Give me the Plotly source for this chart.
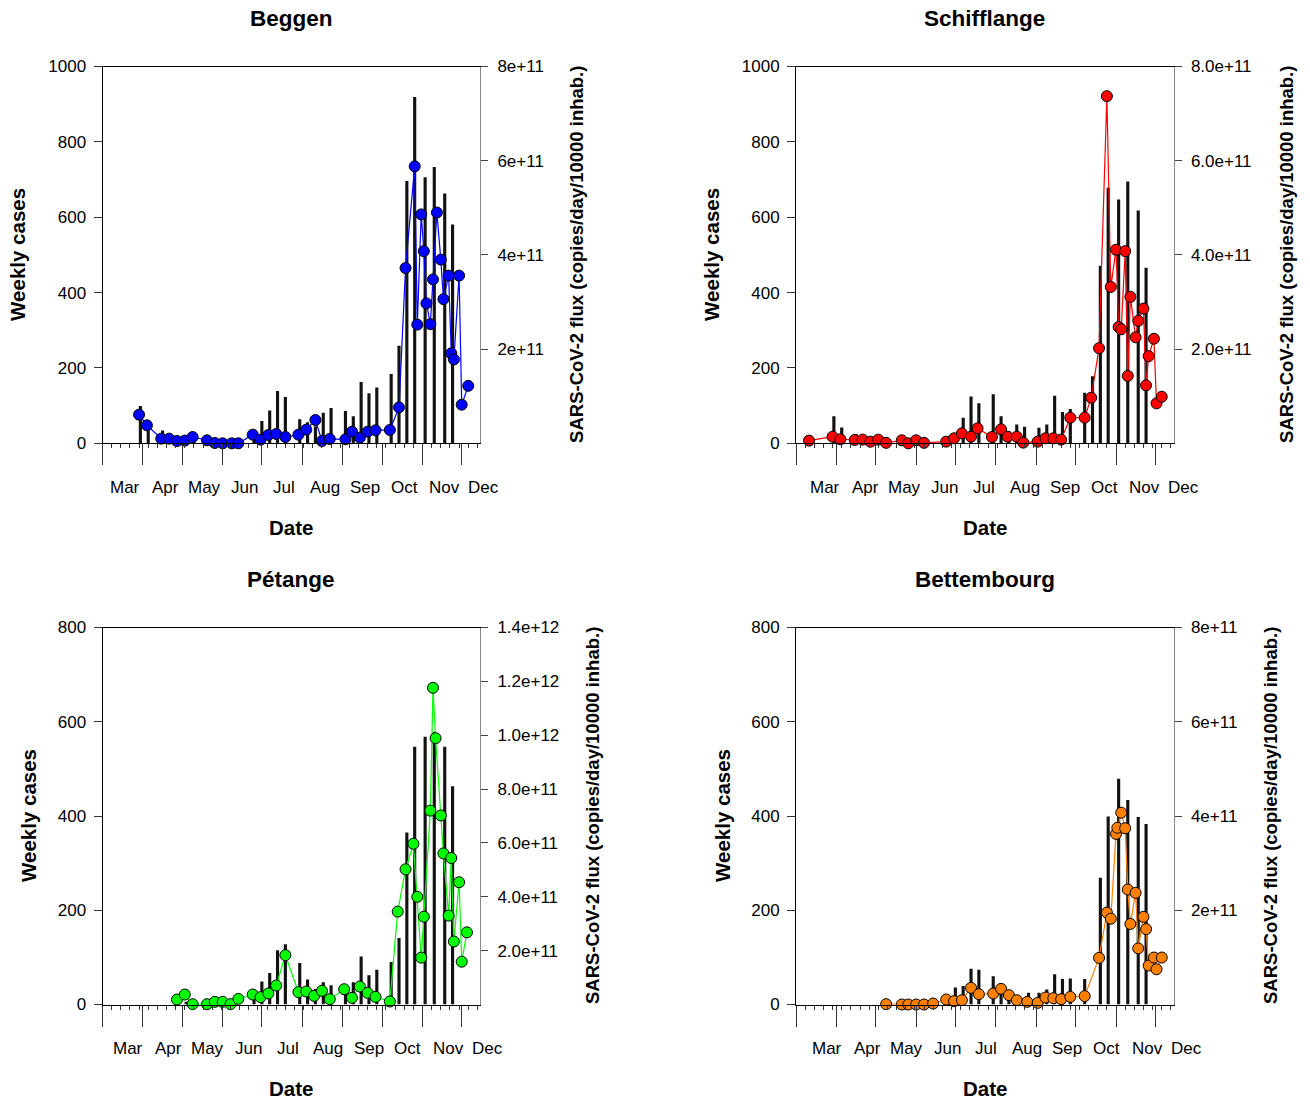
import plotly.graph_objects as go
import pandas as pd

# ---------------- data ----------------
month_labels = ["Mar", "Apr", "May", "Jun", "Jul", "Aug", "Sep", "Oct", "Nov", "Dec"]
month_starts = ["2020-03-01", "2020-04-01", "2020-05-01", "2020-06-01", "2020-07-01",
                "2020-08-01", "2020-09-01", "2020-10-01", "2020-11-01", "2020-12-01"]

# Beggen
beggen_sample_dates = ["2020-03-29", "2020-04-04", "2020-04-15", "2020-04-21", "2020-04-27", "2020-05-03",
                       "2020-05-09", "2020-05-20", "2020-05-26", "2020-06-01", "2020-06-08", "2020-06-13",
                       "2020-06-24", "2020-06-30", "2020-07-06", "2020-07-12", "2020-07-19", "2020-07-29",
                       "2020-08-04", "2020-08-11", "2020-08-16", "2020-08-22", "2020-09-03", "2020-09-08",
                       "2020-09-14", "2020-09-20", "2020-09-26", "2020-10-07", "2020-10-14", "2020-10-19",
                       "2020-10-26", "2020-10-28", "2020-10-31", "2020-11-02", "2020-11-04", "2020-11-07",
                       "2020-11-09", "2020-11-12", "2020-11-15", "2020-11-17", "2020-11-21", "2020-11-23",
                       "2020-11-25", "2020-11-29", "2020-12-01", "2020-12-06"]
beggen_flux = [6.08e10, 3.82e10, 9.9e9, 9.9e9, 4.9e9, 5.7e9, 1.34e10, 6.4e9, 7e8, 0, 0, 0,
               1.84e10, 7.8e9, 1.77e10, 1.98e10, 1.34e10, 1.84e10, 2.9e10, 4.95e10, 4.9e9, 9.2e9,
               8.5e9, 2.47e10, 1.2e10, 2.47e10, 2.76e10, 2.83e10, 7.63e10, 3.72e11, 5.88e11, 2.52e11,
               4.86e11, 4.08e11, 2.97e11, 2.53e11, 3.48e11, 4.90e11, 3.90e11, 3.06e11, 3.56e11,
               1.91e11, 1.78e11, 3.56e11, 8.2e10, 1.22e11]
beggen_case_dates = ["2020-03-30", "2020-04-05", "2020-04-16", "2020-04-22", "2020-04-28", "2020-05-04",
                     "2020-05-10", "2020-05-21", "2020-05-27", "2020-06-02", "2020-06-08", "2020-06-14",
                     "2020-06-25", "2020-07-01", "2020-07-07", "2020-07-13", "2020-07-19", "2020-07-30",
                     "2020-08-05", "2020-08-11", "2020-08-17", "2020-08-23", "2020-09-03", "2020-09-09",
                     "2020-09-15", "2020-09-21", "2020-09-27", "2020-10-08", "2020-10-14", "2020-10-20",
                     "2020-10-26", "2020-11-03", "2020-11-10", "2020-11-18", "2020-11-24"]
beggen_cases = [99, 50, 34, 15, 10, 10, 20, 8, 3, 3, 3, 3, 30, 59, 87, 139, 123, 64, 56, 45, 81, 94,
                86, 72, 163, 133, 148, 184, 259, 696, 919, 706, 733, 663, 581]

# Schifflange
schif_sample_dates = ["2020-03-11", "2020-03-29", "2020-04-04", "2020-04-15", "2020-04-21", "2020-04-27",
                      "2020-05-03", "2020-05-09", "2020-05-21", "2020-05-26", "2020-06-01", "2020-06-07",
                      "2020-06-24", "2020-06-30", "2020-07-06", "2020-07-13", "2020-07-18", "2020-07-29",
                      "2020-08-05", "2020-08-10", "2020-08-17", "2020-08-22", "2020-09-02", "2020-09-08",
                      "2020-09-14", "2020-09-20", "2020-09-27", "2020-10-08", "2020-10-13", "2020-10-19",
                      "2020-10-25", "2020-10-28", "2020-11-01", "2020-11-03", "2020-11-05", "2020-11-08",
                      "2020-11-10", "2020-11-12", "2020-11-16", "2020-11-18", "2020-11-22", "2020-11-24",
                      "2020-11-26", "2020-11-30", "2020-12-02", "2020-12-06"]
schif_flux = [5.7e9, 1.41e10, 8.5e9, 7.1e9, 7.8e9, 3.5e9, 7.8e9, 1.0e9, 6.4e9, 0, 6.4e9, 1.0e9,
              3.5e9, 1.06e10, 2.12e10, 1.41e10, 3.18e10, 1.34e10, 2.97e10, 1.41e10, 1.41e10, 1.4e9,
              3.5e9, 1.06e10, 1.06e10, 7.8e9, 5.44e10, 5.44e10, 9.68e10, 2.02e11, 7.37e11, 3.32e11,
              4.11e11, 2.47e11, 2.42e11, 4.08e11, 1.43e11, 3.11e11, 2.25e11, 2.60e11, 2.86e11,
              1.23e11, 1.85e11, 2.22e11, 8.48e10, 9.89e10]
schif_case_dates = ["2020-03-30", "2020-04-05", "2020-04-16", "2020-04-22", "2020-04-27", "2020-05-03",
                    "2020-05-09", "2020-05-21", "2020-05-27", "2020-06-01", "2020-06-07", "2020-06-25",
                    "2020-07-01", "2020-07-07", "2020-07-13", "2020-07-19", "2020-07-30", "2020-08-05",
                    "2020-08-11", "2020-08-17", "2020-08-23", "2020-09-03", "2020-09-09", "2020-09-15",
                    "2020-09-21", "2020-09-27", "2020-10-08", "2020-10-14", "2020-10-20", "2020-10-26",
                    "2020-11-03", "2020-11-10", "2020-11-18", "2020-11-24"]
schif_cases = [72, 42, 25, 12, 8, 8, 5, 5, 3, 3, 3, 10, 20, 68, 124, 106, 130, 72, 31, 50, 44,
               41, 50, 126, 83, 91, 134, 178, 471, 678, 647, 695, 618, 466]

# Pétange
pet_sample_dates = ["2020-04-27", "2020-05-03", "2020-05-09", "2020-05-20", "2020-05-26", "2020-06-01",
                    "2020-06-07", "2020-06-13", "2020-06-24", "2020-06-30", "2020-07-06", "2020-07-12",
                    "2020-07-19", "2020-07-29", "2020-08-04", "2020-08-10", "2020-08-16", "2020-08-22",
                    "2020-09-02", "2020-09-08", "2020-09-14", "2020-09-20", "2020-09-26", "2020-10-07",
                    "2020-10-13", "2020-10-19", "2020-10-25", "2020-10-28", "2020-10-31", "2020-11-02",
                    "2020-11-07", "2020-11-09", "2020-11-11", "2020-11-15", "2020-11-17", "2020-11-21",
                    "2020-11-23", "2020-11-25", "2020-11-29", "2020-12-01", "2020-12-05"]
pet_flux = [1.85e10, 3.71e10, 1.2e9, 1.2e9, 9.9e9, 9.9e9, 1.2e9, 2.1e10, 3.71e10, 2.72e10, 4.08e10,
            7.04e10, 1.83e11, 4.57e10, 4.82e10, 3.21e10, 5.07e10, 1.98e10, 5.68e10, 2.47e10, 6.67e10,
            4.32e10, 2.84e10, 1.11e10, 3.45e11, 5.02e11, 5.97e11, 4.00e11, 1.74e11, 3.26e11, 7.20e11,
            1.176e12, 9.89e11, 7.02e11, 5.61e11, 3.30e11, 5.44e11, 2.34e11, 4.54e11, 1.59e11, 2.68e11]
pet_case_dates = ["2020-05-04", "2020-06-25", "2020-07-01", "2020-07-07", "2020-07-13", "2020-07-19",
                  "2020-07-30", "2020-08-05", "2020-08-11", "2020-08-17", "2020-08-23", "2020-09-03",
                  "2020-09-09", "2020-09-15", "2020-09-21", "2020-09-27", "2020-10-08", "2020-10-14",
                  "2020-10-20", "2020-10-26", "2020-11-03", "2020-11-10", "2020-11-18", "2020-11-24"]
pet_cases = [6, 30, 49, 67, 115, 128, 88, 53, 33, 47, 41, 23, 47, 102, 62, 74, 90, 141,
             365, 547, 568, 579, 547, 463]

# Bettembourg
bet_sample_dates = ["2020-05-09", "2020-05-21", "2020-05-26", "2020-06-01", "2020-06-07", "2020-06-14",
                    "2020-06-24", "2020-06-30", "2020-07-06", "2020-07-13", "2020-07-19", "2020-07-30",
                    "2020-08-05", "2020-08-11", "2020-08-17", "2020-08-25", "2020-09-02", "2020-09-08",
                    "2020-09-14", "2020-09-20", "2020-09-27", "2020-10-08", "2020-10-19", "2020-10-25",
                    "2020-10-28", "2020-11-01", "2020-11-02", "2020-11-05", "2020-11-08", "2020-11-10",
                    "2020-11-12", "2020-11-16", "2020-11-18", "2020-11-22", "2020-11-24", "2020-11-26",
                    "2020-11-30", "2020-12-02", "2020-12-06"]
bet_flux = [7e8, 0, 0, 0, 0, 2.1e9, 1.06e10, 7.1e9, 9.2e9, 3.53e10, 2.19e10, 2.33e10, 3.32e10,
            1.98e10, 9.2e9, 5.6e9, 3.5e9, 1.48e10, 1.34e10, 1.13e10, 1.62e10, 1.77e10, 9.89e10,
            1.95e11, 1.82e11, 3.62e11, 3.75e11, 4.07e11, 3.74e11, 2.44e11, 1.71e11, 2.37e11,
            1.19e11, 1.86e11, 1.60e11, 8.26e10, 9.96e10, 7.48e10, 9.96e10]
bet_case_dates = ["2020-06-25", "2020-07-01", "2020-07-07", "2020-07-13", "2020-07-19", "2020-07-30",
                  "2020-08-05", "2020-08-11", "2020-08-17", "2020-08-26", "2020-09-03", "2020-09-09",
                  "2020-09-15", "2020-09-21", "2020-09-27", "2020-10-08", "2020-10-20", "2020-10-26",
                  "2020-11-03", "2020-11-10", "2020-11-18", "2020-11-24"]
bet_cases = [10, 36, 39, 76, 74, 60, 25, 20, 20, 25, 25, 32, 64, 54, 55, 54, 269, 399, 479, 434, 398, 383]

flux_title = "SARS-CoV-2 flux (copies/day/10000 inhab.)"

panels = [
    dict(name="Beggen", color="#0000FF", sd=beggen_sample_dates, fx=beggen_flux,
         cd=beggen_case_dates, cs=beggen_cases, ymax=1000, ytv=[0, 200, 400, 600, 800, 1000],
         fmax=8e11, ftv=[2e11, 4e11, 6e11, 8e11], ftt=["2e+11", "4e+11", "6e+11", "8e+11"],
         L=102.5, T=66.5, B=443.3, lab_off=17, ylt_x=18, yrt_x=577),
    dict(name="Schifflange", color="#FF0000", sd=schif_sample_dates, fx=schif_flux,
         cd=schif_case_dates, cs=schif_cases, ymax=1000, ytv=[0, 200, 400, 600, 800, 1000],
         fmax=8e11, ftv=[2e11, 4e11, 6e11, 8e11], ftt=["2.0e+11", "4.0e+11", "6.0e+11", "8.0e+11"],
         L=796, T=66.5, B=443.3, lab_off=22, ylt_x=712, yrt_x=1287),
    dict(name="Pétange", color="#00FF00", sd=pet_sample_dates, fx=pet_flux,
         cd=pet_case_dates, cs=pet_cases, ymax=800, ytv=[0, 200, 400, 600, 800],
         fmax=1.4e12, ftv=[2e11, 4e11, 6e11, 8e11, 1e12, 1.2e12, 1.4e12],
         ftt=["2.0e+11", "4.0e+11", "6.0e+11", "8.0e+11", "1.0e+12", "1.2e+12", "1.4e+12"],
         L=102.5, T=627.5, B=1004.5, lab_off=19.7, ylt_x=28, yrt_x=592),
    dict(name="Bettembourg", color="#FF8000", sd=bet_sample_dates, fx=bet_flux,
         cd=bet_case_dates, cs=bet_cases, ymax=800, ytv=[0, 200, 400, 600, 800],
         fmax=8e11, ftv=[2e11, 4e11, 6e11, 8e11], ftt=["2e+11", "4e+11", "6e+11", "8e+11"],
         L=796, T=627.5, B=1004.5, lab_off=23.8, ylt_x=722, yrt_x=1270),
]

# ---------------- figure ----------------
W, H = 1310, 1102
PW = 377.5
FONT = "Liberation Sans, Arial, Helvetica, sans-serif"
DAY = 86400000
x_start, x_end = pd.Timestamp("2020-03-01"), pd.Timestamp("2020-12-15")
x_range = [x_start.strftime("%Y-%m-%d"), x_end.strftime("%Y-%m-%d")]
weekly = [d.strftime("%Y-%m-%d") for d in pd.date_range(x_start, x_end, freq="7D")]


def domain_frac(ts):
    return (ts - x_start) / (x_end - x_start)


fig = go.Figure()
layout = dict(width=W, height=H, margin=dict(l=0, r=0, t=0, b=0, autoexpand=False),
              plot_bgcolor="white", paper_bgcolor="white", showlegend=False,
              font=dict(family=FONT, size=17, color="black"), annotations=[])

for i, p in enumerate(panels):
    xi = i + 1
    yl = 2 * i + 1
    yr = 2 * i + 2
    xname = "x" if xi == 1 else f"x{xi}"
    ylname = "y" if yl == 1 else f"y{yl}"
    yrname = f"y{yr}"
    xdom = [p["L"] / W, (p["L"] + PW) / W]
    ydom = [1 - p["B"] / H, 1 - p["T"] / H]

    fig.add_trace(go.Bar(x=p["cd"], y=p["cs"], width=2.4 * DAY, marker=dict(color="#111111", line=dict(width=0)),
                         xaxis=xname, yaxis=ylname, hoverinfo="skip"))
    fig.add_trace(go.Scatter(x=p["sd"], y=p["fx"], mode="lines+markers",
                             line=dict(color=p["color"], width=1.2),
                             marker=dict(size=11, color=p["color"], line=dict(color="black", width=1)),
                             cliponaxis=False, xaxis=xname, yaxis=yrname))

    layout["xaxis" if xi == 1 else f"xaxis{xi}"] = dict(
        domain=xdom, anchor=ylname, type="date", range=x_range, automargin=False,
        tickmode="array", tickvals=month_starts, showticklabels=False,
        ticks="outside", ticklen=21, tickwidth=1, tickcolor="#333333",
        showline=True, linecolor="black", linewidth=1, mirror=True,
        showgrid=False, zeroline=False,
        minor=dict(tickmode="array", tickvals=weekly, ticks="outside", ticklen=4,
                   tickwidth=1, tickcolor="#333333", showgrid=False))
    layout["yaxis" if yl == 1 else f"yaxis{yl}"] = dict(
        domain=ydom, anchor=xname, range=[0, p["ymax"]], automargin=False,
        tickmode="array", tickvals=p["ytv"], ticks="outside", ticklen=8, tickcolor="#333333",
        showline=True, linecolor="black", linewidth=1, mirror=False,
        showgrid=False, zeroline=False, ticklabelstandoff=4,
        tickfont=dict(family=FONT, size=17, color="black"))
    layout[f"yaxis{yr}"] = dict(
        overlaying=ylname, side="right", anchor=xname, range=[0, p["fmax"]], automargin=False,
        tickmode="array", tickvals=p["ftv"], ticktext=p["ftt"],
        ticks="outside", ticklen=7, tickcolor="#444444",
        showline=True, linecolor="#888888", linewidth=1,
        showgrid=False, zeroline=False, ticklabelstandoff=6,
        tickfont=dict(family=FONT, size=17, color="black"))

    cx = (p["L"] + PW / 2) / W
    cy = 1 - ((p["T"] + p["B"]) / 2) / H
    # panel title
    layout["annotations"].append(dict(text=f"<b>{p['name']}</b>", x=cx, y=1 - (p["T"] - 48) / H,
                                      xref="paper", yref="paper", showarrow=False,
                                      font=dict(family=FONT, size=22.5, color="black"),
                                      xanchor="center", yanchor="middle"))
    # x title
    layout["annotations"].append(dict(text="<b>Date</b>", x=cx, y=1 - (p["B"] + 84) / H,
                                      xref="paper", yref="paper", showarrow=False,
                                      font=dict(family=FONT, size=20.5, color="black"),
                                      xanchor="center", yanchor="middle"))
    # left y title
    layout["annotations"].append(dict(text="<b>Weekly cases</b>", x=p["ylt_x"] / W, y=cy,
                                      xref="paper", yref="paper", showarrow=False, textangle=-90,
                                      font=dict(family=FONT, size=20.5, color="black"),
                                      xanchor="center", yanchor="middle"))
    # right y title
    layout["annotations"].append(dict(text=f"<b>{flux_title}</b>", x=p["yrt_x"] / W, y=cy,
                                      xref="paper", yref="paper", showarrow=False, textangle=-90,
                                      font=dict(family=FONT, size=18.5, color="black"),
                                      xanchor="center", yanchor="middle"))
    # month labels (placed in axis-domain units so that "Dec" past the range end stays visible)
    for lab, ms in zip(month_labels, month_starts):
        xd = pd.Timestamp(ms) + pd.Timedelta(days=p["lab_off"])
        layout["annotations"].append(dict(text=lab, x=domain_frac(xd), xref=f"{xname} domain",
                                          y=1 - (p["B"] + 44) / H, yref="paper", showarrow=False,
                                          font=dict(family=FONT, size=17, color="black"),
                                          xanchor="center", yanchor="middle"))

fig.update_layout(**layout)
fig.write_html("out.html", config={"displayModeBar": False},
               post_script="document.body.style.margin='0px';")
